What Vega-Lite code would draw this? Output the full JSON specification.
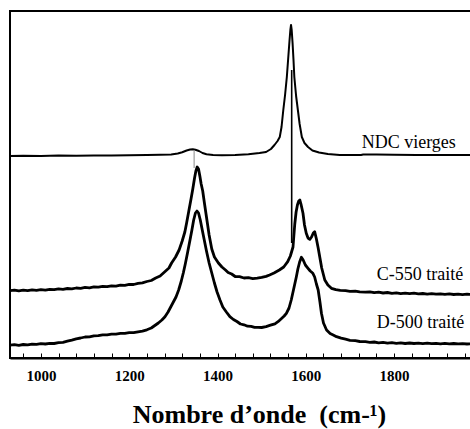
{
  "$schema": "https://vega.github.io/schema/vega-lite/v6.json",
  "width": 462,
  "height": 347,
  "autosize": "none",
  "padding": {"left": 10, "top": 11, "right": 0, "bottom": 71},
  "background": "white",
  "config": {
    "view": {"stroke": "black", "strokeWidth": 2},
    "font": "Liberation Serif",
    "axis": {
      "domainColor": "black", "domainWidth": 2,
      "tickColor": "black", "tickWidth": 1, "tickSize": -5,
      "labelFont": "Liberation Serif", "labelFontWeight": "bold", "labelFontSize": 15, "labelColor": "black", "labelPadding": 15,
      "labelOverlap": false, "labelFlush": false,
      "grid": false,
      "titleFont": "Liberation Serif", "titleFontWeight": "bold", "titleFontSize": 26, "titleColor": "black"
    }
  },
  "datasets": {
    "spectra": [
      {"s":"NDC","w":930,"v":201},{"s":"NDC","w":960,"v":201.3},{"s":"NDC","w":1000,"v":201},{"s":"NDC","w":1040,"v":201.5},{"s":"NDC","w":1080,"v":201.2},{"s":"NDC","w":1120,"v":201.6},{"s":"NDC","w":1160,"v":201.4},{"s":"NDC","w":1200,"v":201.8},{"s":"NDC","w":1240,"v":202},{"s":"NDC","w":1270,"v":202.2},{"s":"NDC","w":1295,"v":202.6},{"s":"NDC","w":1310,"v":203.5},{"s":"NDC","w":1320,"v":204.8},{"s":"NDC","w":1330,"v":206.5},{"s":"NDC","w":1338,"v":207.5},{"s":"NDC","w":1344,"v":207.8},{"s":"NDC","w":1350,"v":207.3},{"s":"NDC","w":1358,"v":206},{"s":"NDC","w":1366,"v":204},{"s":"NDC","w":1375,"v":202.8},{"s":"NDC","w":1390,"v":202},{"s":"NDC","w":1410,"v":201.8},{"s":"NDC","w":1440,"v":202},{"s":"NDC","w":1470,"v":202.8},{"s":"NDC","w":1495,"v":204},{"s":"NDC","w":1510,"v":205},{"s":"NDC","w":1521,"v":208},{"s":"NDC","w":1529,"v":212},{"s":"NDC","w":1536,"v":216},{"s":"NDC","w":1541,"v":220},{"s":"NDC","w":1545,"v":230},{"s":"NDC","w":1549,"v":247},{"s":"NDC","w":1553,"v":262},{"s":"NDC","w":1557,"v":280},{"s":"NDC","w":1560,"v":298},{"s":"NDC","w":1563,"v":316},{"s":"NDC","w":1565,"v":327},{"s":"NDC","w":1566.5,"v":332},{"s":"NDC","w":1568,"v":327},{"s":"NDC","w":1570,"v":314},{"s":"NDC","w":1572,"v":298},{"s":"NDC","w":1574,"v":280},{"s":"NDC","w":1578,"v":261},{"s":"NDC","w":1582,"v":247},{"s":"NDC","w":1586,"v":233},{"s":"NDC","w":1591,"v":220},{"s":"NDC","w":1597,"v":214},{"s":"NDC","w":1605,"v":210},{"s":"NDC","w":1615,"v":206.5},{"s":"NDC","w":1630,"v":204.5},{"s":"NDC","w":1650,"v":203},{"s":"NDC","w":1677,"v":202},{"s":"NDC","w":1700,"v":202},{"s":"NDC","w":1725,"v":202},{"s":"NDC","w":1730,"v":202.5},{"s":"NDC","w":1760,"v":202.4},{"s":"NDC","w":1800,"v":202.2},{"s":"NDC","w":1850,"v":202},{"s":"NDC","w":1900,"v":202},{"s":"NDC","w":1950,"v":202},{"s":"NDC","w":1976,"v":202},
      {"s":"C550","w":930,"v":66.3},{"s":"C550","w":940,"v":66.9},{"s":"C550","w":950,"v":66.1},{"s":"C550","w":960,"v":66.8},{"s":"C550","w":970,"v":66.4},{"s":"C550","w":980,"v":67.1},{"s":"C550","w":990,"v":66.7},{"s":"C550","w":1000,"v":67.3},{"s":"C550","w":1010,"v":66.9},{"s":"C550","w":1020,"v":67.7},{"s":"C550","w":1030,"v":67.3},{"s":"C550","w":1040,"v":68.1},{"s":"C550","w":1050,"v":67.7},{"s":"C550","w":1060,"v":68.5},{"s":"C550","w":1070,"v":68.1},{"s":"C550","w":1080,"v":69},{"s":"C550","w":1090,"v":68.7},{"s":"C550","w":1100,"v":69.6},{"s":"C550","w":1110,"v":69.2},{"s":"C550","w":1120,"v":70.1},{"s":"C550","w":1130,"v":69.8},{"s":"C550","w":1140,"v":70.6},{"s":"C550","w":1150,"v":70.3},{"s":"C550","w":1160,"v":71.2},{"s":"C550","w":1170,"v":70.9},{"s":"C550","w":1180,"v":71.8},{"s":"C550","w":1190,"v":71.6},{"s":"C550","w":1200,"v":72.6},{"s":"C550","w":1210,"v":72.5},{"s":"C550","w":1220,"v":73.6},{"s":"C550","w":1230,"v":74.1},{"s":"C550","w":1240,"v":75.5},{"s":"C550","w":1250,"v":76.5},{"s":"C550","w":1260,"v":79},{"s":"C550","w":1270,"v":81},{"s":"C550","w":1280,"v":85},{"s":"C550","w":1290,"v":89},{"s":"C550","w":1296,"v":94},{"s":"C550","w":1305,"v":100},{"s":"C550","w":1313,"v":107},{"s":"C550","w":1320,"v":116},{"s":"C550","w":1326,"v":125},{"s":"C550","w":1330,"v":134},{"s":"C550","w":1335,"v":146},{"s":"C550","w":1340,"v":158},{"s":"C550","w":1344,"v":168},{"s":"C550","w":1348,"v":179},{"s":"C550","w":1351,"v":186},{"s":"C550","w":1354,"v":190},{"s":"C550","w":1357,"v":188},{"s":"C550","w":1360,"v":181},{"s":"C550","w":1363,"v":173},{"s":"C550","w":1366.5,"v":166},{"s":"C550","w":1370,"v":155},{"s":"C550","w":1374,"v":143},{"s":"C550","w":1377,"v":134},{"s":"C550","w":1381,"v":122},{"s":"C550","w":1387,"v":108},{"s":"C550","w":1393,"v":100},{"s":"C550","w":1402,"v":94},{"s":"C550","w":1410,"v":90},{"s":"C550","w":1418,"v":87},{"s":"C550","w":1424,"v":84.5},{"s":"C550","w":1432,"v":83},{"s":"C550","w":1440,"v":80.5},{"s":"C550","w":1450,"v":80.3},{"s":"C550","w":1460,"v":79},{"s":"C550","w":1470,"v":79.3},{"s":"C550","w":1480,"v":78.4},{"s":"C550","w":1490,"v":78.9},{"s":"C550","w":1500,"v":79.6},{"s":"C550","w":1510,"v":80.6},{"s":"C550","w":1518,"v":82},{"s":"C550","w":1528,"v":84},{"s":"C550","w":1540,"v":87},{"s":"C550","w":1550,"v":90},{"s":"C550","w":1559,"v":95.3},{"s":"C550","w":1565,"v":101},{"s":"C550","w":1571,"v":110},{"s":"C550","w":1575,"v":133},{"s":"C550","w":1578,"v":145},{"s":"C550","w":1581,"v":152},{"s":"C550","w":1584,"v":156},{"s":"C550","w":1586.5,"v":157},{"s":"C550","w":1589,"v":153},{"s":"C550","w":1593.6,"v":143.7},{"s":"C550","w":1597,"v":132},{"s":"C550","w":1601,"v":123.7},{"s":"C550","w":1605,"v":119},{"s":"C550","w":1609,"v":117.7},{"s":"C550","w":1613,"v":120},{"s":"C550","w":1617,"v":124},{"s":"C550","w":1620,"v":125.3},{"s":"C550","w":1624,"v":118},{"s":"C550","w":1628,"v":109},{"s":"C550","w":1631.5,"v":100.3},{"s":"C550","w":1636,"v":89},{"s":"C550","w":1643,"v":77},{"s":"C550","w":1650,"v":72},{"s":"C550","w":1658,"v":68.7},{"s":"C550","w":1668,"v":67.3},{"s":"C550","w":1678,"v":66.6},{"s":"C550","w":1690,"v":66.4},{"s":"C550","w":1700,"v":65.7},{"s":"C550","w":1712,"v":65.9},{"s":"C550","w":1722,"v":65.1},{"s":"C550","w":1735,"v":64.8},{"s":"C550","w":1745,"v":65.2},{"s":"C550","w":1755,"v":64.3},{"s":"C550","w":1765,"v":64.8},{"s":"C550","w":1775,"v":64},{"s":"C550","w":1785,"v":64.5},{"s":"C550","w":1795,"v":63.7},{"s":"C550","w":1805,"v":64.2},{"s":"C550","w":1815,"v":63.4},{"s":"C550","w":1825,"v":63.9},{"s":"C550","w":1835,"v":63.3},{"s":"C550","w":1845,"v":63.8},{"s":"C550","w":1855,"v":63.1},{"s":"C550","w":1865,"v":63.5},{"s":"C550","w":1875,"v":62.9},{"s":"C550","w":1885,"v":63.4},{"s":"C550","w":1895,"v":62.8},{"s":"C550","w":1905,"v":63.2},{"s":"C550","w":1915,"v":62.7},{"s":"C550","w":1925,"v":63.1},{"s":"C550","w":1935,"v":62.5},{"s":"C550","w":1945,"v":62.9},{"s":"C550","w":1955,"v":62.4},{"s":"C550","w":1965,"v":62.8},{"s":"C550","w":1976,"v":62.5},
      {"s":"D500","w":930,"v":11.8},{"s":"D500","w":940,"v":12.3},{"s":"D500","w":950,"v":11.7},{"s":"D500","w":960,"v":12.5},{"s":"D500","w":970,"v":12.1},{"s":"D500","w":980,"v":12.9},{"s":"D500","w":990,"v":12.6},{"s":"D500","w":1000,"v":13.3},{"s":"D500","w":1010,"v":13},{"s":"D500","w":1020,"v":13.7},{"s":"D500","w":1030,"v":13.5},{"s":"D500","w":1040,"v":14.3},{"s":"D500","w":1050,"v":14.6},{"s":"D500","w":1060,"v":15.8},{"s":"D500","w":1070,"v":16.9},{"s":"D500","w":1080,"v":18.2},{"s":"D500","w":1090,"v":19},{"s":"D500","w":1100,"v":20},{"s":"D500","w":1110,"v":20.2},{"s":"D500","w":1120,"v":21.2},{"s":"D500","w":1130,"v":21.3},{"s":"D500","w":1140,"v":22.1},{"s":"D500","w":1150,"v":22.2},{"s":"D500","w":1160,"v":22.9},{"s":"D500","w":1170,"v":22.9},{"s":"D500","w":1180,"v":23.6},{"s":"D500","w":1190,"v":23.6},{"s":"D500","w":1200,"v":24.3},{"s":"D500","w":1210,"v":24.3},{"s":"D500","w":1220,"v":25.2},{"s":"D500","w":1230,"v":25.9},{"s":"D500","w":1240,"v":27.2},{"s":"D500","w":1250,"v":29},{"s":"D500","w":1258,"v":31.5},{"s":"D500","w":1266,"v":34},{"s":"D500","w":1274,"v":37},{"s":"D500","w":1281,"v":40.3},{"s":"D500","w":1288,"v":45},{"s":"D500","w":1294,"v":50},{"s":"D500","w":1300,"v":55},{"s":"D500","w":1306,"v":60},{"s":"D500","w":1312,"v":67},{"s":"D500","w":1318,"v":76},{"s":"D500","w":1322.5,"v":84},{"s":"D500","w":1327,"v":93},{"s":"D500","w":1332,"v":104},{"s":"D500","w":1337.7,"v":117},{"s":"D500","w":1342,"v":127},{"s":"D500","w":1346,"v":137},{"s":"D500","w":1350,"v":144},{"s":"D500","w":1353.5,"v":146},{"s":"D500","w":1357,"v":144},{"s":"D500","w":1361,"v":137},{"s":"D500","w":1365,"v":128},{"s":"D500","w":1370,"v":117},{"s":"D500","w":1375,"v":106},{"s":"D500","w":1381,"v":94},{"s":"D500","w":1387,"v":84},{"s":"D500","w":1393,"v":74},{"s":"D500","w":1399,"v":65},{"s":"D500","w":1405.6,"v":57},{"s":"D500","w":1412,"v":50},{"s":"D500","w":1420,"v":45},{"s":"D500","w":1428,"v":40.3},{"s":"D500","w":1436,"v":37.5},{"s":"D500","w":1444,"v":35.5},{"s":"D500","w":1452,"v":33},{"s":"D500","w":1460,"v":32.2},{"s":"D500","w":1468,"v":30.8},{"s":"D500","w":1476,"v":30.6},{"s":"D500","w":1484,"v":29.6},{"s":"D500","w":1492,"v":29.7},{"s":"D500","w":1500,"v":29.5},{"s":"D500","w":1510,"v":30.3},{"s":"D500","w":1520,"v":31.8},{"s":"D500","w":1530,"v":33.2},{"s":"D500","w":1537,"v":35.3},{"s":"D500","w":1545,"v":38.5},{"s":"D500","w":1551,"v":41},{"s":"D500","w":1556,"v":43.7},{"s":"D500","w":1562,"v":49},{"s":"D500","w":1567,"v":57},{"s":"D500","w":1571,"v":65},{"s":"D500","w":1575,"v":73},{"s":"D500","w":1578.6,"v":80.3},{"s":"D500","w":1582,"v":88},{"s":"D500","w":1586,"v":95},{"s":"D500","w":1590,"v":99.7},{"s":"D500","w":1594,"v":97},{"s":"D500","w":1599,"v":92},{"s":"D500","w":1605,"v":88.7},{"s":"D500","w":1610,"v":86},{"s":"D500","w":1616,"v":83.7},{"s":"D500","w":1620,"v":80},{"s":"D500","w":1624,"v":73},{"s":"D500","w":1628,"v":67},{"s":"D500","w":1632,"v":55},{"s":"D500","w":1635.4,"v":43.7},{"s":"D500","w":1640,"v":34},{"s":"D500","w":1647,"v":27},{"s":"D500","w":1655,"v":23.5},{"s":"D500","w":1662,"v":22},{"s":"D500","w":1669.5,"v":20.3},{"s":"D500","w":1680,"v":18.8},{"s":"D500","w":1690,"v":17.8},{"s":"D500","w":1700,"v":16.7},{"s":"D500","w":1712,"v":16.3},{"s":"D500","w":1722,"v":15.5},{"s":"D500","w":1735,"v":15.3},{"s":"D500","w":1745,"v":14.7},{"s":"D500","w":1755,"v":15},{"s":"D500","w":1765,"v":14.2},{"s":"D500","w":1775,"v":14.6},{"s":"D500","w":1785,"v":13.9},{"s":"D500","w":1795,"v":14.3},{"s":"D500","w":1805,"v":13.7},{"s":"D500","w":1815,"v":14.2},{"s":"D500","w":1825,"v":13.5},{"s":"D500","w":1835,"v":14},{"s":"D500","w":1845,"v":13.5},{"s":"D500","w":1855,"v":13.9},{"s":"D500","w":1865,"v":13.3},{"s":"D500","w":1875,"v":13.8},{"s":"D500","w":1885,"v":13.3},{"s":"D500","w":1895,"v":13.7},{"s":"D500","w":1905,"v":13.2},{"s":"D500","w":1915,"v":13.6},{"s":"D500","w":1925,"v":13.1},{"s":"D500","w":1935,"v":13.5},{"s":"D500","w":1945,"v":13.1},{"s":"D500","w":1955,"v":13.4},{"s":"D500","w":1965,"v":13},{"s":"D500","w":1976,"v":13.3}
    ],
    "markers": [
      {"kind": "D", "w": 1347, "v1": 189, "v2": 207},
      {"kind": "G", "w": 1568, "v1": 114, "v2": 287}
    ],
    "labels": [
      {"label": "NDC vierges", "w": 1726.6, "v": 208.7},
      {"label": "C-550 traité", "w": 1760.5, "v": 77},
      {"label": "D-500 traité", "w": 1760.5, "v": 29.3}
    ]
  },
  "layer": [
    {
      "data": {"name": "spectra"},
      "mark": {"type": "line", "color": "black", "strokeJoin": "round", "clip": true},
      "encoding": {
        "x": {
          "field": "w", "type": "quantitative",
          "scale": {"domain": [930, 1976.4], "nice": false, "zero": false},
          "axis": {
            "values": [960, 1000, 1040, 1080, 1120, 1160, 1200, 1240, 1280, 1320, 1360, 1400, 1440, 1480, 1520, 1560, 1600, 1640, 1680, 1720, 1760, 1800, 1840, 1880, 1920, 1960],
            "tickCount": 100,
            "format": "d",
            "labelExpr": "datum.value % 200 === 0 ? datum.label : ''",
            "title": "Nombre d’onde\u00a0 (cm-¹)",
            "titleX": 249, "titleY": 64, "titleBaseline": "alphabetic", "titleAlign": "center"
          }
        },
        "y": {
          "field": "v", "type": "quantitative",
          "scale": {"domain": [-1, 346], "nice": false, "zero": false},
          "axis": null
        },
        "detail": {"field": "s"},
        "strokeWidth": {"condition": {"test": "datum.s === 'NDC'", "value": 2}, "value": 2.8}
      }
    },
    {
      "data": {"name": "markers"},
      "mark": {"type": "rule"},
      "encoding": {
        "x": {"field": "w", "type": "quantitative"},
        "y": {"field": "v1", "type": "quantitative"},
        "y2": {"field": "v2"},
        "color": {"condition": {"test": "datum.kind === 'D'", "value": "#8a8a8a"}, "value": "black"},
        "strokeWidth": {"condition": {"test": "datum.kind === 'D'", "value": 1}, "value": 1.6}
      }
    },
    {
      "data": {"name": "labels"},
      "mark": {"type": "text", "align": "left", "baseline": "alphabetic", "font": "Liberation Serif", "fontSize": 18, "color": "black"},
      "encoding": {
        "x": {"field": "w", "type": "quantitative"},
        "y": {"field": "v", "type": "quantitative"},
        "text": {"field": "label"}
      }
    }
  ]
}
